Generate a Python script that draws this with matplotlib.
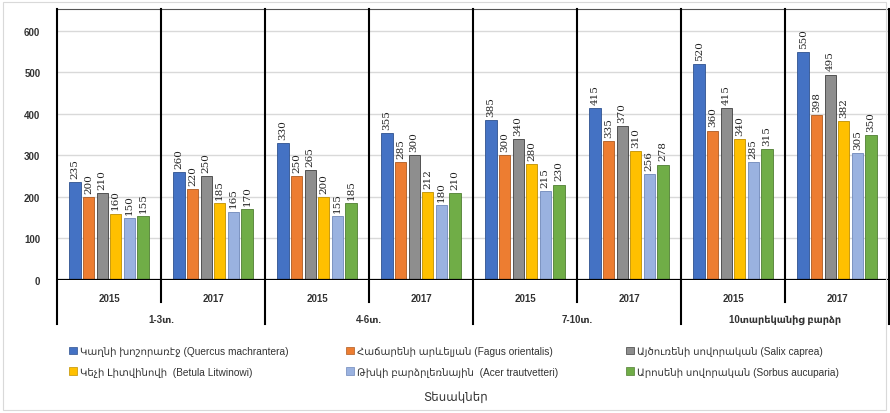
import numpy as np
import matplotlib
matplotlib.use('Agg')
import matplotlib.pyplot as plt
from matplotlib.patches import Patch, Rectangle
import matplotlib.transforms as mtransforms

# data
ages = ['1-3տ.', '4-6տ.', '7-10տ.', '10տարեկանից բարձր']
years = ['2015', '2017']
species = ['Կաղնի խոշորառէջ (Quercus machrantera)',
           'Հաճարենի արևելյան (Fagus orientalis)',
           'Այծուռենի սովորական (Salix caprea)',
           'Կեչի Լիտվինովի  (Betula Litwinowi)',
           'Թխկի բարձրլեռնային  (Acer trautvetteri)',
           'Արոսենի սովորական (Sorbus aucuparia)']
kaghni = [235, 260, 330, 355, 385, 415, 520, 550]
hacharenu = [200, 220, 250, 285, 300, 335, 360, 398]
aytsurenu = [210, 250, 265, 300, 340, 370, 415, 495]
kechi = [160, 185, 200, 212, 280, 310, 340, 382]
tkhki = [150, 165, 155, 180, 215, 256, 285, 305]
arosenu = [155, 170, 185, 210, 230, 278, 315, 350]
values = [kaghni, hacharenu, aytsurenu, kechi, tkhki, arosenu]
colors = ['#4472C4', '#ED7D31', '#8E8E8E', '#FFC000', '#9AB2E0', '#70AD47']
edges = ['#2F528F', '#AE5A21', '#3F3F3F', '#BF9000', '#6F88BA', '#507E32']

plt.rcParams['font.family'] = ['Liberation Sans', 'DejaVu Sans']

fig = plt.figure(figsize=(8.9, 4.14), dpi=100)
ax = fig.add_axes([57/890, 1-281/414, (889-57)/890, 271/414])

n = len(years) * len(ages)
x = np.arange(n) + 0.5
width = 0.11
step = 0.13
for i, (vals, c, ec) in enumerate(zip(values, colors, edges)):
    pos = x + (i - 2.5) * step
    rects = ax.bar(pos, vals, width, color=c, edgecolor=ec, linewidth=0.6,
                   label=species[i], zorder=3)
    for r in rects:
        h = r.get_height()
        ax.annotate('{}'.format(h), xy=(r.get_x() + r.get_width()/2, h),
                    xytext=(0, 3), textcoords='offset points',
                    ha='center', va='bottom', rotation=90, fontsize=7.5,
                    family=['DejaVu Serif'], color='#222222')

ax.set_xlim(0, n)
ax.set_ylim(0, 653)
ax.set_yticks(range(0, 601, 100))
ax.tick_params(axis='y', length=0, pad=12, labelsize=7)
for lbl in ax.get_yticklabels():
    lbl.set_fontweight('bold')
    lbl.set_color('#333333')
ax.grid(axis='y', color='#D9D9D9', linewidth=1, zorder=0)

# year labels as ticks
ax.set_xticks(x)
ax.set_xticklabels(years * len(ages), fontsize=7, fontweight='bold', color='#333333')
ax.tick_params(axis='x', length=0, pad=9)

for s in ['left', 'right', 'bottom']:
    ax.spines[s].set_visible(False)
ax.spines['top'].set_color('#555555')
ax.spines['top'].set_linewidth(0.8)
ax.axhline(0, color='black', linewidth=1.6, zorder=4)

# vertical separators of the two-level category axis
axh = 271.0
for k in range(n + 1):
    if k % 2 == 0:
        ymin = -44 / axh
    else:
        ymin = -22 / axh
    ax.axvline(k, ymin=ymin, ymax=1, color='black', linewidth=1.5,
               clip_on=False, zorder=5)

trans = mtransforms.blended_transform_factory(ax.transData, ax.transAxes)
for j, a in enumerate(ages):
    ax.text(2 * j + 1, -39 / axh, a, transform=trans, ha='center', va='center',
            fontsize=7, fontweight='bold', color='#333333')

# legend in three columns
handles = [Patch(facecolor=c, edgecolor=ec, linewidth=0.5) for c, ec in zip(colors, edges)]
col_x = [69/890, 346/890, 626/890]
for col in range(3):
    idx = [col, col + 3]
    fig.legend([handles[i] for i in idx], [species[i] for i in idx],
               loc='upper left', bbox_to_anchor=(col_x[col], 1 - 347/414),
               frameon=False, fontsize=7.3, handlelength=0.75, handleheight=0.75,
               handletextpad=0.3, labelspacing=1.05, borderaxespad=0,
               borderpad=0, labelcolor='#333333')

fig.text(456/890, 1 - 398/414, 'Տեսակներ', ha='center', va='center',
         fontsize=8.5, color='#333333')

fig.patches.append(Rectangle((3/890, 3/414), 883/890, 408/414, transform=fig.transFigure,
                             fill=False, edgecolor='#D9D9D9', linewidth=0.8))

plt.savefig('out.png', dpi=100)
plt.close()
